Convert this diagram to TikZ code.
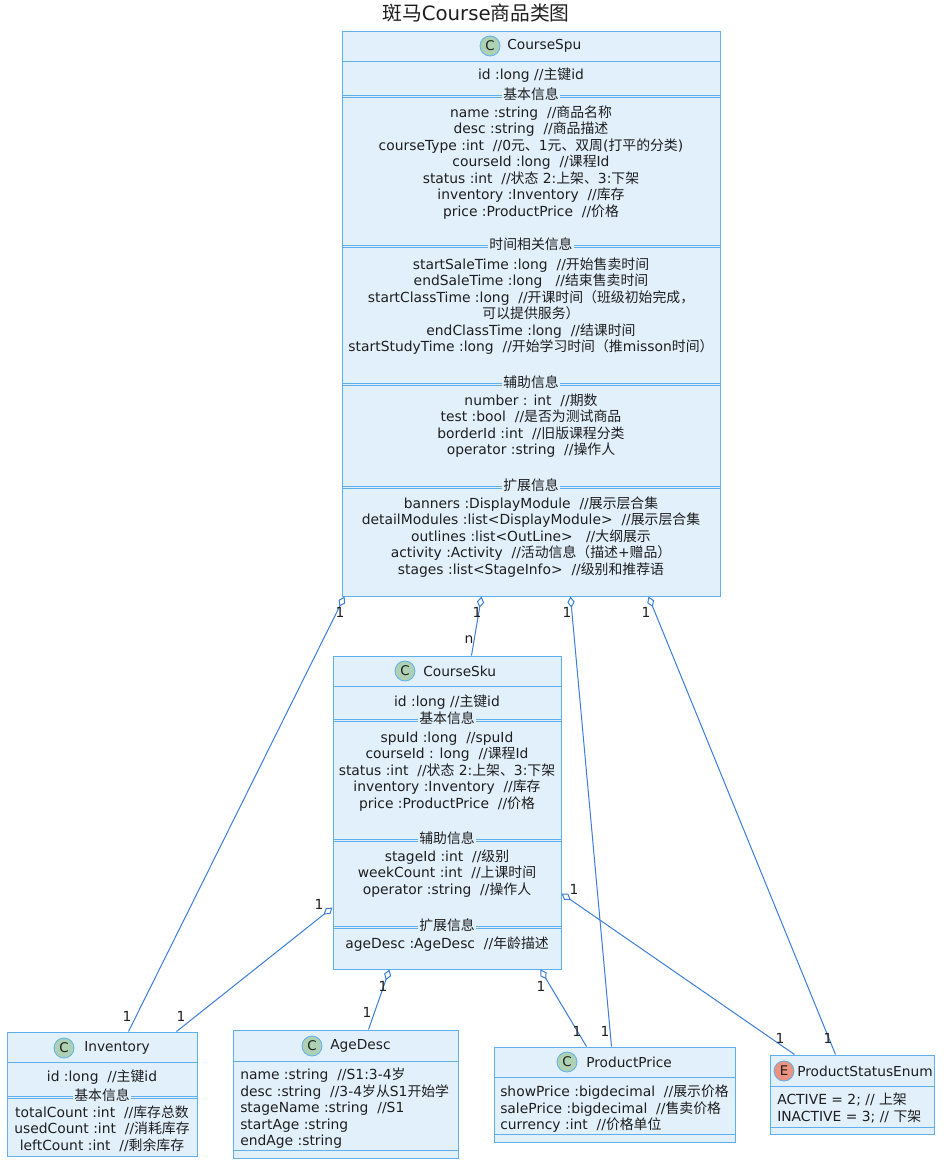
\documentclass[tikz,border=0pt]{standalone}
\usepackage{fontspec}
\setmainfont{DejaVu Sans}
\newfontfamily\cjkfont{Noto Sans CJK SC}
\usetikzlibrary{arrows.meta,calc,fit}
\lineskiplimit=-50pt
\XeTeXinterchartokenstate=1
\newXeTeXintercharclass\CJKcls
\newcount\cjkc
\cjkc="2E80
\loop \XeTeXcharclass\cjkc=\CJKcls \ifnum\cjkc<"9FFF \advance\cjkc by 1 \repeat
\cjkc="FF00
\loop \XeTeXcharclass\cjkc=\CJKcls \ifnum\cjkc<"FFEF \advance\cjkc by 1 \repeat
\XeTeXinterchartoks 0 \CJKcls = {\begingroup\cjkfont}
\XeTeXinterchartoks 4095 \CJKcls = {\begingroup\cjkfont}
\XeTeXinterchartoks \CJKcls 0 = {\endgroup}
\XeTeXinterchartoks \CJKcls 4095 = {\endgroup}
\definecolor{boxfill}{HTML}{E2F0FC}
\definecolor{boxline}{HTML}{5FAEEE}
\definecolor{conn}{HTML}{3B7DD8}
\definecolor{txt}{HTML}{1E1E1E}
\definecolor{cspot}{HTML}{ADD1B2}
\definecolor{espot}{HTML}{EB937F}
\tikzset{
  cls/.style={draw=boxline, fill=boxfill, line width=0.75pt, inner sep=0pt},
  sepl/.style={draw=boxline, line width=0.65pt},
  bodyf/.style={font=\fontsize{10.4pt}{12.375pt}\selectfont, text=txt},
  body/.style={bodyf, align=center, inner sep=0pt, anchor=north, yshift=-1pt},
  bodyl/.style={bodyf, align=left, inner sep=0pt, anchor=north west, yshift=-1.3pt},
  sect/.style={bodyf, fill=boxfill, inner xsep=1pt, inner ysep=0pt},
  cname/.style={font=\fontsize{10.3pt}{12pt}\selectfont, text=txt, anchor=west, inner sep=0pt},
  spot/.style={circle, draw=boxline, line width=0.6pt, minimum size=15pt, inner sep=0pt, font=\fontsize{10pt}{12pt}\selectfont, text=txt},
  assoc/.style={draw=conn, line width=0.75pt, {Diamond[fill=white, length=8.5pt, width=5.5pt]}-},
  lbl/.style={bodyf, inner sep=0pt},
}
\begin{document}
\begin{tikzpicture}[x=0.75pt, y=-0.75pt]
\useasboundingbox (0,0) rectangle (944,1168);
% title
\node[font=\fontsize{14.8pt}{16pt}\selectfont, text=txt] (title) at (476,13) {斑马Course商品类图};

% ---------- CourseSpu ----------
\node[cls, fit={(342,31) (720,596)}] (spu) {};
\node[spot, fill=cspot] (spuC) at (490,46) {C};
\node[cname] (spuN) at (507,46) {CourseSpu};
\draw[sepl] (342,61) -- (720,61);
\node[body] (spuId) at (531,66) {\strut id :long //主键id};
\draw[sepl] (342,95) -- (720,95); \draw[sepl] (342,97) -- (720,97);
\node[sect] (spuS1) at (531,94) {基本信息};
\node[body] (spuB1) at (531,104) {\strut name :string\ \ //商品名称\\
\strut desc :string\ \ //商品描述\\
\strut courseType :int\ \ //0元、1元、双周(打平的分类)\\
\strut courseId :long\ \ //课程Id\\
\strut status :int\ \ //状态 2:上架、3:下架\\
\strut inventory :Inventory\ \ //库存\\
\strut price :ProductPrice\ \ //价格};
\draw[sepl] (342,245) -- (720,245); \draw[sepl] (342,247) -- (720,247);
\node[sect] (spuS2) at (531,244) {时间相关信息};
\node[body] (spuB2) at (531,256) {\strut startSaleTime :long\ \ //开始售卖时间\\
\strut endSaleTime :long\ \ \ //结束售卖时间\\
\strut startClassTime :long\ \ //开课时间（班级初始完成，\\
\strut 可以提供服务）\\
\strut endClassTime :long\ \ //结课时间\\
\strut startStudyTime :long\ \ //开始学习时间（推misson时间）};
\draw[sepl] (342,383) -- (720,383); \draw[sepl] (342,385) -- (720,385);
\node[sect] (spuS3) at (531,382) {辅助信息};
\node[body] (spuB3) at (531,392) {\strut number : int\ \ //期数\\
\strut test :bool\ \ //是否为测试商品\\
\strut borderId :int\ \ //旧版课程分类\\
\strut operator :string\ \ //操作人};
\draw[sepl] (342,486) -- (720,486); \draw[sepl] (342,488) -- (720,488);
\node[sect] (spuS4) at (531,485) {扩展信息};
\node[body] (spuB4) at (531,495) {\strut banners :DisplayModule\ \ //展示层合集\\
\strut detailModules :list<DisplayModule>\ \ //展示层合集\\
\strut outlines :list<OutLine>\ \ \ //大纲展示\\
\strut activity :Activity\ \ //活动信息（描述+赠品）\\
\strut stages :list<StageInfo>\ \ //级别和推荐语};

% ---------- CourseSku ----------
\node[cls, fit={(333,656) (561,969)}] (sku) {};
\node[spot, fill=cspot] (skuC) at (405,671) {C};
\node[cname] (skuN) at (423,671) {CourseSku};
\draw[sepl] (333,686) -- (561,686);
\node[body] (skuId) at (447,693) {\strut id :long //主键id};
\draw[sepl] (333,719) -- (561,719); \draw[sepl] (333,721) -- (561,721);
\node[sect] (skuS1) at (447,718) {基本信息};
\node[body] (skuB1) at (447,729) {\strut spuId :long\ \ //spuId\\
\strut courseId : long\ \ //课程Id\\
\strut status :int\ \ //状态 2:上架、3:下架\\
\strut inventory :Inventory\ \ //库存\\
\strut price :ProductPrice\ \ //价格};
\draw[sepl] (333,839) -- (561,839); \draw[sepl] (333,841) -- (561,841);
\node[sect] (skuS2) at (447,838) {辅助信息};
\node[body] (skuB2) at (447,848) {\strut stageId :int\ \ //级别\\
\strut weekCount :int\ \ //上课时间\\
\strut operator :string\ \ //操作人};
\draw[sepl] (333,926) -- (561,926); \draw[sepl] (333,928) -- (561,928);
\node[sect] (skuS3) at (447,925) {扩展信息};
\node[body] (skuB3) at (447,935) {\strut ageDesc :AgeDesc\ \ //年龄描述};

% ---------- Inventory ----------
\node[cls, fit={(7,1032) (197,1156)}] (inv) {};
\node[spot, fill=cspot] (invC) at (64,1048) {C};
\node[cname] (invN) at (84,1048) {Inventory};
\draw[sepl] (7,1062) -- (197,1062);
\node[body] (invId) at (102,1068) {\strut id :long\ \ //主键id};
\draw[sepl] (7,1096) -- (197,1096); \draw[sepl] (7,1098) -- (197,1098);
\node[sect] (invS1) at (102,1095) {基本信息};
\node[body] (invB1) at (102,1104) {\strut totalCount :int\ \ //库存总数\\
\strut usedCount :int\ \ //消耗库存\\
\strut leftCount :int\ \ //剩余库存};

% ---------- AgeDesc ----------
\node[cls, fit={(233,1030) (458,1158)}] (age) {};
\node[spot, fill=cspot] (ageC) at (312,1046) {C};
\node[cname] (ageN) at (330,1046) {AgeDesc};
\draw[sepl] (233,1061) -- (458,1061);
\node[bodyl] (ageB1) at (240,1066) {\strut name :string\ \ //S1:3-4岁\\
\strut desc :string\ \ //3-4岁从S1开始学\\
\strut stageName :string\ \ //S1\\
\strut startAge :string\\
\strut endAge :string};
\draw[sepl] (233,1150) -- (458,1150);

% ---------- ProductPrice ----------
\node[cls, fit={(494,1047) (735,1142)}] (pp) {};
\node[spot, fill=cspot] (ppC) at (567,1062) {C};
\node[cname] (ppN) at (586,1062) {ProductPrice};
\draw[sepl] (494,1077) -- (735,1077);
\node[bodyl] (ppB1) at (500,1083) {\strut showPrice :bigdecimal\ \ //展示价格\\
\strut salePrice :bigdecimal\ \ //售卖价格\\
\strut currency :int\ \ //价格单位};
\draw[sepl] (494,1134) -- (735,1134);

% ---------- ProductStatusEnum ----------
\node[cls, fit={(770,1055) (934,1134)}] (pse) {};
\node[spot, fill=espot] (pseE) at (784,1071) {E};
\node[cname] (pseN) at (797,1071) {ProductStatusEnum};
\draw[sepl] (770,1086) -- (934,1086);
\node[bodyl] (pseB1) at (777,1091) {\strut ACTIVE = 2; // 上架\\
\strut INACTIVE = 3; // 下架};
\draw[sepl] (770,1127) -- (934,1127);

% ---------- connectors ----------
\draw[assoc] ($(spu.south west)+(3,0)$) -- ($(inv.north west)+(122,0)$);
\draw[assoc] ($(spu.south west)+(140,0)$) -- ($(sku.north west)+(139,0)$);
\draw[assoc] ($(spu.south west)+(229,0)$) -- ($(pp.north west)+(118,0)$);
\draw[assoc] ($(spu.south west)+(307,0)$) -- ($(pse.north west)+(66,0)$);
\draw[assoc] ($(sku.north west)+(0,252)$) -- ($(inv.north west)+(170,0)$);
\draw[assoc] ($(sku.south west)+(57,0)$) -- ($(age.north west)+(136,0)$);
\draw[assoc] ($(sku.south west)+(208,0)$) -- ($(pp.north west)+(93,0)$);
\draw[assoc] ($(sku.north east)+(0,238)$) -- ($(pse.north west)+(25,0)$);

% ---------- multiplicities ----------
\node[lbl] (m1a) at (340,612) {1};
\node[lbl] (m1b) at (127,1016) {1};
\node[lbl] (m2a) at (477,612) {1};
\node[lbl] (m2b) at (469,640) {n};
\node[lbl] (m3a) at (567,612) {1};
\node[lbl] (m3b) at (605,1031) {1};
\node[lbl] (m4a) at (646,612) {1};
\node[lbl] (m4b) at (828,1038) {1};
\node[lbl] (m5a) at (319,904) {1};
\node[lbl] (m5b) at (181,1016) {1};
\node[lbl] (m6a) at (383,986) {1};
\node[lbl] (m6b) at (367,1012) {1};
\node[lbl] (m7a) at (541,986) {1};
\node[lbl] (m7b) at (577,1031) {1};
\node[lbl] (m8a) at (574,889) {1};
\node[lbl] (m8b) at (780,1038) {1};
\end{tikzpicture}
\end{document}
